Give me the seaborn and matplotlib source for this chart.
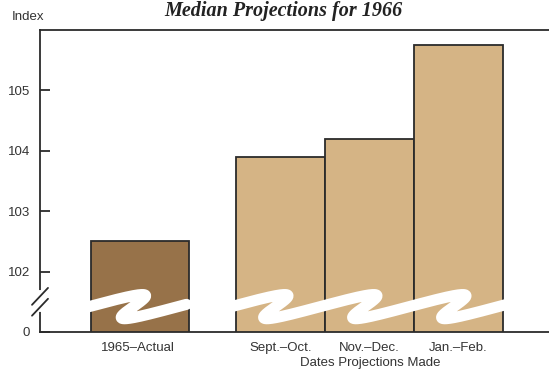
import numpy as np
import pandas as pd
import matplotlib
matplotlib.use("Agg")
import matplotlib.pyplot as plt
import seaborn as sns

# ---- data ----
categories = ["1965–Actual", "Sept.–Oct.", "Nov.–Dec.", "Jan.–Feb."]
values = [102.5, 103.9, 104.2, 105.75]
kinds = ["Actual", "Projection", "Projection", "Projection"]
ytick_values = [101, 102, 103, 104, 105]
ytick_labels = ["0", "102", "103", "104", "105"]

# ---- layout ----
slots = [0.0, 1.6, 2.6, 3.6]
colors = {"Actual": "#977249", "Projection": "#d5b485"}
ink = "#2b2b2b"

sns.set_theme(style="white")
plt.rcParams["font.family"] = ["Liberation Sans", "DejaVu Sans"]

fig = plt.figure(figsize=(5.49, 3.70), dpi=100)
ax = fig.add_axes([40 / 549, 38 / 370, 1 - 40 / 549, 302 / 370])

df = pd.DataFrame({"slot": slots, "value": values, "kind": kinds})
sns.barplot(data=df, x="slot", y="value", hue="kind", palette=colors,
            native_scale=True, width=1.0, dodge=False, legend=False,
            edgecolor=ink, linewidth=1.3, saturation=1, ax=ax)

# the actual-year bar is drawn a little wider in the original
for p in ax.patches:
    if abs(p.get_x() + p.get_width() / 2 - slots[0]) < 0.01:
        p.set_x(p.get_x() - 0.03)
        p.set_width(p.get_width() + 0.1)

ax.set_ylim(101, 106)
ax.set_xlim(-1.1, 4.62)
ax.set_yticks(ytick_values, ytick_labels)
ax.set_xticks(slots, categories)
ax.set_xlabel("")
ax.set_ylabel("")

for s in ["left", "bottom", "top"]:
    ax.spines[s].set_color(ink)
    ax.spines[s].set_linewidth(1.3)
ax.spines["right"].set_visible(False)

ax.tick_params(axis="y", direction="in", length=7, width=1.3, color=ink,
               labelsize=9.5, labelcolor="#333333", pad=7, left=True)
ax.tick_params(axis="x", length=0, labelsize=9.5, labelcolor="#333333", pad=7)

# ---- wave decoration (axis break) ----
def wave(x0, n_periods):
    u = np.linspace(-0.03, n_periods + 0.03, 1200)
    t = 2 * np.pi * u
    x = x0 + (t + 2.2 * np.sin(t)) / (2 * np.pi)
    y = 101.42 + 0.2 * np.sin(t)
    ax.plot(x, y, color="white", lw=8, solid_capstyle="round",
            solid_joinstyle="round", zorder=6)

wave(slots[0] - 0.55, 1)
wave(slots[1] - 0.55, 3)

# ---- y axis break marks ----
tr = ax.get_yaxis_transform()
ax.plot([0, 0], [101.36, 101.66], color="white", lw=3, transform=tr,
        clip_on=False, zorder=7)
dx = 8 / 509
ax.plot([-dx, dx], [101.27, 101.55], color=ink, lw=1.3, transform=tr,
        clip_on=False, zorder=8)
ax.plot([-dx, dx], [101.45, 101.73], color=ink, lw=1.3, transform=tr,
        clip_on=False, zorder=8)

# ---- texts ----
fig.text(283 / 549, 1 - 1 / 370, "Median Projections for 1966",
         family=["Liberation Serif", "DejaVu Serif"], style="italic",
         weight="bold", fontsize=14.5, color="#222222", ha="center", va="top")
fig.text(12 / 549, 1 - 17 / 370, "Index", fontsize=9.5, color="#333333",
         ha="left", va="center")
fig.text(370 / 549, 1 - 363 / 370, "Dates Projections Made", fontsize=9.5,
         color="#333333", ha="center", va="center")

fig.savefig("out.png", dpi=100, facecolor="white")
